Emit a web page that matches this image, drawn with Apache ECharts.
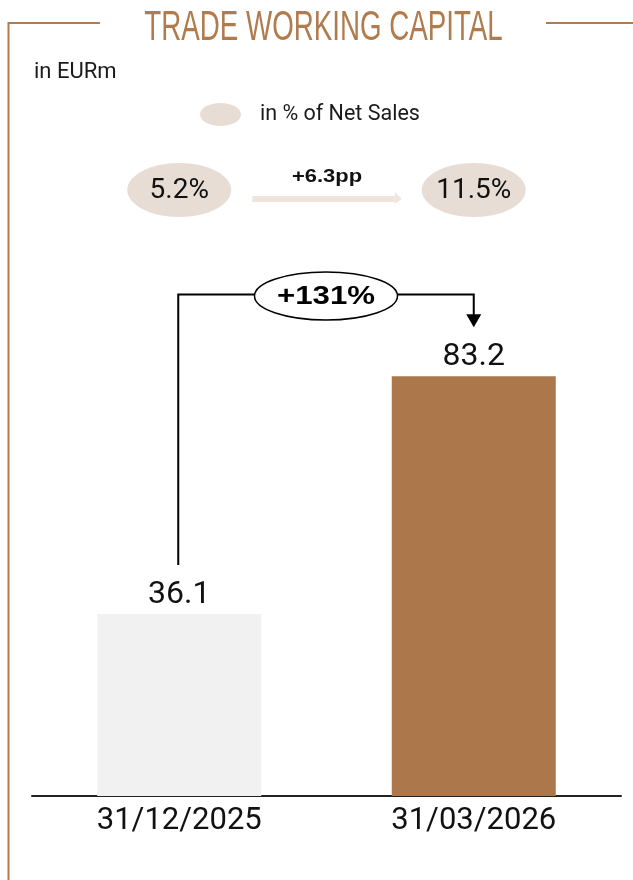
<!DOCTYPE html>
<html><head><meta charset="utf-8">
<script src="https://cdn.jsdelivr.net/npm/echarts@6/dist/echarts.min.js"></script>
<style>html,body{margin:0;padding:0;background:#fff}#c{width:633px;height:880px}</style>
</head><body><div id="c"></div>
<script>
const categories = ['31/12/2025', '31/03/2026'];
const values = [36.1, 83.2];
const pctOfSales = ['5.2%', '11.5%'];
const ppChange = ['+6.3pp'];
const growthLabel = ['+131%'];
const titleText = 'TRADE WORKING CAPITAL';
const unitText = 'in EURm';
const legendText = 'in % of Net Sales';

const BROWN = '#ab774b';
const FRAME = '#b07c4e';
const BEIGE = '#e8ddd4';
const chart = echarts.init(document.getElementById('c'), null, {renderer: 'canvas'});
chart.setOption({
  animation: false,
  grid: {left: 32, right: 12, top: 291.5, bottom: 84},
  xAxis: {
    type: 'category', data: categories,
    axisLine: {lineStyle: {color: '#222', width: 2}},
    axisTick: {show: false},
    axisLabel: {fontFamily: 'Roboto', fontSize: 31, color: '#111', margin: 10}
  },
  yAxis: {type: 'value', min: 0, max: 100, show: false},
  series: [{
    type: 'bar', barWidth: 164,
    data: values.map((v, i) => ({value: v, itemStyle: {color: i === 0 ? '#f1f1f1' : BROWN}})),
    label: {show: true, position: 'top', distance: 3, fontFamily: 'Roboto', fontSize: 32, color: '#111'}
  }]
});

const xs = categories.map((c, i) => chart.convertToPixel({xAxisIndex: 0}, i));
const tops = values.map(v => chart.convertToPixel({yAxisIndex: 0}, v));
const x0 = xs[0] - 1, x1 = xs[1];
const yH = 294.5;
const lineBottom = tops[0] - 49;
const tip = tops[1] - 49;
const midX = (x0 + x1) / 2;

const g = [];
// frame
g.push({type: 'line', shape: {x1: 8.5, y1: 23, x2: 100, y2: 23}, style: {stroke: FRAME, lineWidth: 2}});
g.push({type: 'line', shape: {x1: 8.5, y1: 22, x2: 8.5, y2: 880}, style: {stroke: FRAME, lineWidth: 2}});
g.push({type: 'line', shape: {x1: 546, y1: 23, x2: 633, y2: 23}, style: {stroke: FRAME, lineWidth: 2}});
g.push({type: 'text', x: 323.5, y: 28, scaleX: 0.66,
  style: {text: titleText, x: 0, y: 0, fill: FRAME, font: '42px "Liberation Sans"', align: 'center', verticalAlign: 'middle'}});
// unit & legend
g.push({type: 'text', style: {text: unitText, x: 34, y: 72, fill: '#1a1a1a', font: '22px Roboto', align: 'left', verticalAlign: 'middle'}});
g.push({type: 'ellipse', shape: {cx: 220.5, cy: 114.5, rx: 20.5, ry: 11.5}, style: {fill: BEIGE}});
g.push({type: 'text', style: {text: legendText, x: 260, y: 115, fill: '#1a1a1a', font: '21.5px Roboto', align: 'left', verticalAlign: 'middle'}});
// percentage bubbles
pctOfSales.forEach((t, i) => {
  g.push({type: 'ellipse', shape: {cx: xs[i], cy: 190, rx: 52, ry: 27}, style: {fill: BEIGE}});
  g.push({type: 'text', style: {text: t, x: xs[i], y: 191, fill: '#111', font: '28px Roboto', align: 'center', verticalAlign: 'middle'}});
});
// pp arrow
const ax0 = xs[0] + 73, ax1 = xs[1] - 72;
g.push({type: 'rect', shape: {x: ax0, y: 196, width: ax1 - ax0 - 7, height: 6}, style: {fill: '#efe5dd'}});
g.push({type: 'polygon', shape: {points: [[ax1 - 7, 192], [ax1, 199], [ax1 - 7, 204]]}, style: {fill: '#efe5dd'}});
g.push({type: 'text', x: (ax0 + ax1) / 2, y: 177, scaleX: 1.22,
  style: {text: ppChange[0], x: 0, y: 0, fill: '#111', font: 'bold 18px "Liberation Sans"', align: 'center', verticalAlign: 'middle'}});
// growth connector
g.push({type: 'polyline', shape: {points: [[x0, lineBottom], [x0, yH], [x1, yH], [x1, tip - 12]]}, style: {stroke: '#000', lineWidth: 2, fill: null}});
g.push({type: 'polygon', shape: {points: [[x1 - 7.5, tip - 13], [x1 + 7.5, tip - 13], [x1, tip]]}, style: {fill: '#000'}});
g.push({type: 'ellipse', shape: {cx: midX, cy: 296, rx: 71.5, ry: 24}, style: {fill: '#fff', stroke: '#000', lineWidth: 1.5}});
g.push({type: 'text', x: midX, y: 297, scaleX: 1.2,
  style: {text: growthLabel[0], x: 0, y: 0, fill: '#000', font: 'bold 26px "Liberation Sans"', align: 'center', verticalAlign: 'middle'}});

chart.setOption({graphic: g});
</script>
</body></html>
